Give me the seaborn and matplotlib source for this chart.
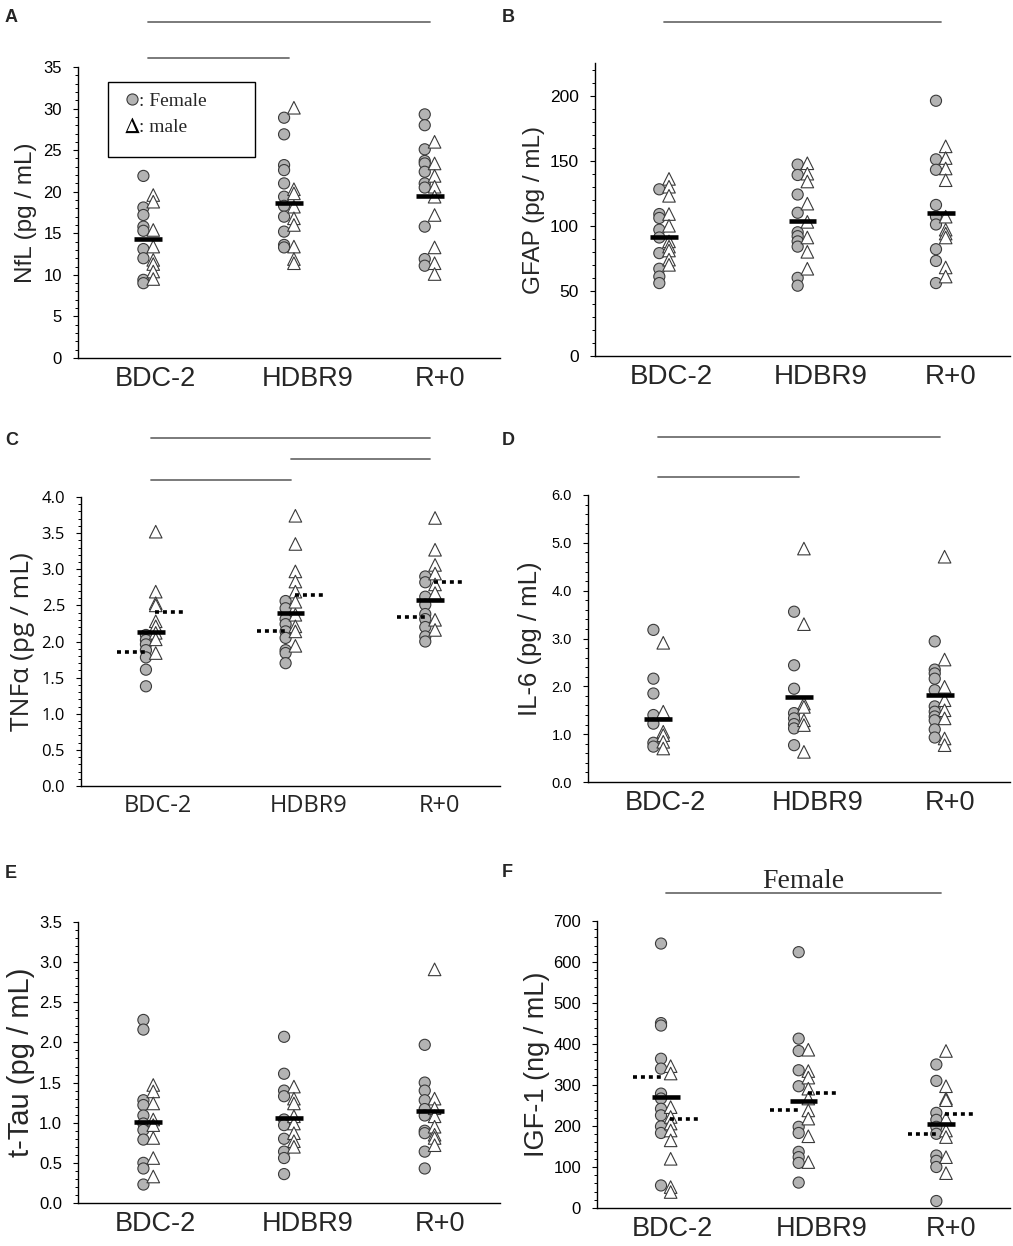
import numpy as np
import pandas as pd
import matplotlib
matplotlib.use('Agg')
import matplotlib.pyplot as plt
import matplotlib.transforms as mtrans
import seaborn as sns
from matplotlib.lines import Line2D
from matplotlib.patches import Rectangle
from matplotlib.ticker import MultipleLocator, FormatStrFormatter

sns.set_style('ticks')
plt.rcParams['font.family'] = ['Liberation Sans', 'DejaVu Sans']
plt.rcParams['mathtext.fontset'] = 'stix'

groups = ['BDC-2', 'HDBR9', 'R+0']

# A: NfL
nfl_f = [[21.9, 18.1, 17.2, 15.8, 15.3, 13.1, 12.0, 9.4, 9.0],
         [28.9, 26.9, 23.2, 22.6, 21.0, 19.4, 18.3, 17.0, 15.2, 13.6, 13.3],
         [29.3, 28.0, 25.1, 23.7, 23.4, 22.4, 21.0, 20.5, 15.8, 11.9, 11.1]]
nfl_m = [[19.6, 18.8, 15.4, 13.4, 11.8, 11.3, 10.4, 9.5],
         [30.1, 20.3, 19.8, 18.2, 16.8, 16.0, 13.4, 11.9, 11.4],
         [26.0, 23.4, 21.9, 20.6, 19.4, 17.2, 13.3, 11.4, 10.1]]
nfl_mean = [14.35, 18.65, 19.5]

# B: GFAP
gfap_f = [[128, 109, 106, 97, 91, 79, 67, 61, 56],
          [147, 139, 124, 110, 95, 92, 88, 84, 60, 54],
          [196, 151, 143, 116, 107, 101, 82, 73, 56]]
gfap_m = [[136, 130, 123, 109, 100, 88, 84, 81, 74, 70],
          [148, 140, 134, 117, 103, 91, 80, 67],
          [161, 152, 144, 135, 107, 97, 94, 91, 68, 61]]
gfap_mean = [91, 104, 110]

# C: TNFa
tnf_f = [[2.09, 2.02, 1.96, 1.88, 1.78, 1.61, 1.38],
         [2.56, 2.46, 2.31, 2.24, 2.14, 2.05, 1.88, 1.84, 1.70],
         [2.90, 2.82, 2.62, 2.51, 2.38, 2.31, 2.20, 2.07, 2.00]]
tnf_m = [[3.52, 2.69, 2.53, 2.50, 2.28, 2.21, 2.12, 2.03, 1.84],
         [3.74, 3.35, 2.97, 2.83, 2.69, 2.55, 2.37, 2.21, 2.14, 1.94],
         [3.71, 3.27, 3.06, 2.94, 2.79, 2.67, 2.30, 2.16]]
tnf_mean = [2.13, 2.40, 2.58]
tnf_mean_f = [1.85, 2.14, 2.34]
tnf_mean_m = [2.41, 2.65, 2.82]

# D: IL-6
il6_f = [[3.18, 2.16, 1.85, 1.40, 1.22, 0.82, 0.74],
         [3.56, 2.44, 1.95, 1.44, 1.33, 1.21, 1.12, 0.77],
         [2.94, 2.35, 2.27, 2.16, 1.92, 1.58, 1.47, 1.37, 1.29, 1.10, 0.93]]
il6_m = [[2.91, 1.47, 1.05, 0.98, 0.84, 0.70],
         [4.88, 3.30, 1.64, 1.57, 1.29, 1.19, 0.63],
         [4.71, 2.56, 1.99, 1.71, 1.50, 1.33, 0.91, 0.77]]
il6_mean = [1.31, 1.78, 1.81]

# E: t-Tau
tau_f = [[2.28, 2.16, 1.28, 1.22, 1.09, 0.99, 0.91, 0.79, 0.50, 0.43, 0.23],
         [2.07, 1.61, 1.40, 1.33, 1.04, 0.97, 0.80, 0.64, 0.56, 0.36],
         [1.97, 1.50, 1.40, 1.28, 1.17, 1.09, 0.90, 0.87, 0.64, 0.43]]
tau_m = [[1.47, 1.39, 1.24, 1.04, 0.97, 0.81, 0.56, 0.33],
         [1.45, 1.30, 1.24, 1.08, 0.99, 0.87, 0.77, 0.70],
         [2.91, 1.30, 1.18, 1.08, 0.95, 0.85, 0.81, 0.72]]
tau_mean = [1.01, 1.06, 1.14]

# F: IGF-1
igf_f = [[645, 451, 445, 364, 340, 279, 267, 242, 226, 199, 183, 55],
         [624, 413, 383, 336, 297, 198, 183, 137, 124, 110, 62],
         [350, 310, 232, 215, 198, 181, 128, 115, 100, 17]]
igf_m = [[346, 328, 246, 222, 206, 189, 165, 120, 51, 39],
         [386, 334, 318, 291, 267, 238, 218, 175, 112],
         [383, 297, 267, 263, 218, 189, 173, 124, 85]]
igf_mean = [271, 261, 206]
igf_mean_f = [320, 240, 181]
igf_mean_m = [216, 281, 230]

W, H = 1013, 1246
fig = plt.figure(figsize=(W / 100, H / 100), dpi=100)

panels = [
    dict(letter='A', f=nfl_f, m=nfl_m, mean=nfl_mean, ylabel='NfL (pg / mL)',
         rect=(78, 67, 422, 291), ylim=35, major=5, minor=1, fmt='%d',
         sig=[(0, 2, 1.155), (0, 1, 1.031)], lab_x=-0.097, lpos=(5, 22), lab_fs=17.5, tick_fs=12, x_fs=19.5),
    dict(letter='B', f=gfap_f, m=gfap_m, mean=gfap_mean, ylabel='GFAP (pg / mL)',
         rect=(595, 63, 415, 293), ylim=225, major=50, minor=10, fmt='%d',
         sig=[(0, 2, 1.14)], lab_x=-0.12, lpos=(502, 22), lab_fs=17.5, tick_fs=12.5, x_fs=20),
    dict(letter='C', f=tnf_f, m=tnf_m, mean=tnf_mean, mf=tnf_mean_f, mm=tnf_mean_m,
         ylabel='TNFα (pg / mL)', rect=(81, 497, 419, 289), ylim=4.0, major=0.5, minor=0.1,
         fmt='%.1f', sig=[(0, 2, 1.204), (1, 2, 1.131), (0, 1, 1.059)], lab_x=-0.11,
         lpos=(5, 445), lab_fs=19, tick_fs=12, x_fs=17, family=['Open Sans', 'DejaVu Sans']),
    dict(letter='D', f=il6_f, m=il6_m, mean=il6_mean, ylabel='IL-6 (pg / mL)',
         rect=(588, 495, 422, 287), ylim=6.0, major=1.0, minor=0.2, fmt='%.1f',
         sig=[(0, 2, 1.202), (0, 1, 1.063)], lab_x=-0.109, lpos=(502, 445), lab_fs=18.5, tick_fs=10.5, x_fs=19.5),
    dict(letter='E', f=tau_f, m=tau_m, mean=tau_mean, ylabel='t-Tau (pg / mL)',
         rect=(78, 922, 422, 281), ylim=3.5, major=0.5, minor=0.1, fmt='%.1f',
         sig=[], lab_x=-0.102, lpos=(5, 878), lab_fs=21, tick_fs=12, x_fs=19.5),
    dict(letter='F', f=igf_f, m=igf_m, mean=igf_mean, mf=igf_mean_f, mm=igf_mean_m,
         ylabel='IGF-1 (ng / mL)', rect=(597, 921, 413, 287), ylim=700, major=100, minor=20,
         fmt='%d', sig=[(0, 2, 1.098)], lab_x=-0.114, lpos=(502, 877), lab_fs=19.5, tick_fs=12, x_fs=19.5),
]

xs = np.arange(len(groups))

for p in panels:
    l, t, w, h = p['rect']
    ax = fig.add_axes([l / W, 1 - (t + h) / H, w / W, h / H])
    fam = p.get('family', ['Liberation Sans', 'DejaVu Sans'])

    rows = []
    for gi, g in enumerate(groups):
        for v in p['f'][gi]:
            rows.append((gi, 'Female', v))
        for v in p['m'][gi]:
            rows.append((gi, 'Male', v))
    df = pd.DataFrame(rows, columns=['gi', 'sex', 'value'])
    df['x'] = df['gi'] + df['sex'].map({'Female': -0.035, 'Male': 0.035})

    sns.scatterplot(data=df, x='x', y='value', hue='sex', style='sex', size='sex',
                    markers={'Female': 'o', 'Male': '^'},
                    palette={'Female': '#b3b3b3', 'Male': 'white'},
                    sizes={'Female': 64, 'Male': 82},
                    edgecolor='#3a3a3a', linewidth=0.8, legend=False, ax=ax, zorder=2)

    ax.hlines(p['mean'], xs - 0.1, xs + 0.1, colors='black', lw=3.3, zorder=4)
    if 'mf' in p:
        ax.hlines(p['mf'], xs - 0.24, xs - 0.02, colors='black', lw=2.6,
                  linestyles=(0, (1.1, 1.1)), zorder=4)
        ax.hlines(p['mm'], xs + 0.03, xs + 0.24, colors='black', lw=2.6,
                  linestyles=(0, (1.1, 1.1)), zorder=4)

    ax.set_xlim(-0.5, 2.5)
    ax.set_ylim(0, p['ylim'])
    ax.set_xticks(xs + np.array([0.05, 0.13, 0.07]))
    ax.set_xticklabels(groups, fontsize=p['x_fs'], family=fam)
    ax.tick_params(axis='x', length=0, pad=6)
    ax.yaxis.set_major_locator(MultipleLocator(p['major']))
    ax.yaxis.set_minor_locator(MultipleLocator(p['minor']))
    ax.yaxis.set_major_formatter(FormatStrFormatter(p['fmt']))
    ax.tick_params(axis='y', which='major', direction='out', length=3.5, width=0.8,
                   pad=8, labelsize=p['tick_fs'], colors='black')
    ax.tick_params(axis='y', which='minor', direction='out', length=2.5, width=0.7, colors='black')
    for lab in ax.get_yticklabels():
        lab.set_family(fam)
    ax.set_xlabel('')
    ax.set_ylabel(p['ylabel'], fontsize=p['lab_fs'], family=fam)
    ax.yaxis.set_label_coords(p['lab_x'], 0.5)
    sns.despine(ax=ax)
    for s in ['left', 'bottom']:
        ax.spines[s].set_color('black')
        ax.spines[s].set_linewidth(1.0)

    tr = mtrans.blended_transform_factory(ax.transData, ax.transAxes)
    for i, j, yy in p['sig']:
        ax.plot([i, j], [yy, yy], transform=tr, clip_on=False, color='#707070', lw=1.3)

    fig.text(p['lpos'][0] / W, 1 - p['lpos'][1] / H, p['letter'], fontsize=13,
             fontweight='bold', va='baseline', ha='left')

    if p['letter'] == 'A':
        ax.add_patch(Rectangle((0.071, 0.691), 0.348, 0.257, transform=ax.transAxes,
                               fill=False, edgecolor='black', lw=1.0, zorder=5))
        handles = [Line2D([], [], ls='', marker='o', ms=8, mfc='#b3b3b3', mec='#3a3a3a', mew=0.8),
                   Line2D([], [], ls='', marker=r'$\Delta$', ms=11, color='black', mew=0)]
        ax.legend(handles, [': Female', ': male'], loc='upper left',
                  bbox_to_anchor=(0.09, 0.94), frameon=False, handlelength=0.8,
                  handletextpad=0.0, borderaxespad=0, labelspacing=0.45,
                  prop={'family': 'Liberation Serif', 'size': 14})

    if p['letter'] == 'F':
        ax.text(1.0, 1.115, 'Female', transform=tr, ha='center', va='baseline',
                family='Liberation Serif', fontsize=20)

fig.savefig('out.png', dpi=100)
